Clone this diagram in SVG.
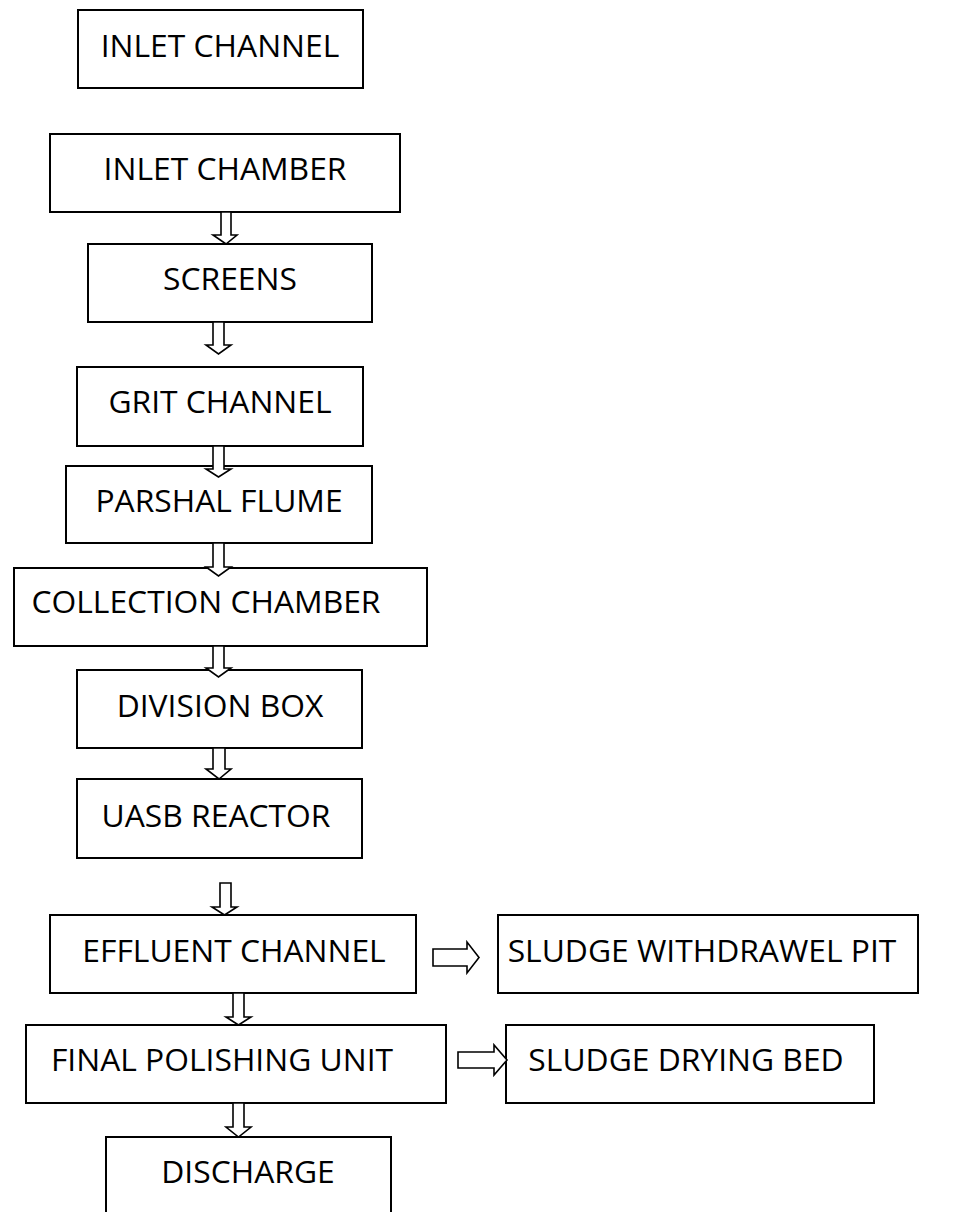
<svg xmlns="http://www.w3.org/2000/svg" width="962" height="1212" viewBox="0 0 962 1212">
<style>
.box{fill:#fff;stroke:#000;stroke-width:2}
.lbl{font-family:"Open Sans","Liberation Sans",sans-serif;font-size:31.8px;fill:#000;text-anchor:middle}
.arr{fill:#fff;stroke:#000;stroke-width:1.6;stroke-linejoin:miter}
</style>
<rect width="962" height="1212" fill="#fff"/>
<g id="n1"><rect class="box" x="78" y="10" width="285" height="78"/><text class="lbl" x="220" y="57">INLET CHANNEL</text></g>
<g id="n2"><rect class="box" x="50" y="134" width="350" height="78"/><text class="lbl" x="225" y="180">INLET CHAMBER</text></g>
<g id="n3"><rect class="box" x="88" y="244" width="284" height="78"/><text class="lbl" x="230" y="290">SCREENS</text></g>
<g id="n4"><rect class="box" x="77" y="367" width="286" height="79"/><text class="lbl" x="220" y="413">GRIT CHANNEL</text></g>
<g id="n5"><rect class="box" x="66" y="466" width="306" height="77"/><text class="lbl" x="219" y="512">PARSHAL FLUME</text></g>
<g id="n6"><rect class="box" x="14" y="568" width="413" height="78"/><text class="lbl" x="206" y="613">COLLECTION CHAMBER</text></g>
<g id="n7"><rect class="box" x="77" y="670" width="285" height="78"/><text class="lbl" x="220" y="717">DIVISION BOX</text></g>
<g id="n8"><rect class="box" x="77" y="779" width="285" height="79"/><text class="lbl" x="216" y="827">UASB REACTOR</text></g>
<g id="n9"><rect class="box" x="50" y="915" width="366" height="78"/><text class="lbl" x="234" y="962">EFFLUENT CHANNEL</text></g>
<g id="n10"><rect class="box" x="498" y="915" width="420" height="78"/><text class="lbl" x="702" y="962">SLUDGE WITHDRAWEL PIT</text></g>
<g id="n11"><rect class="box" x="26" y="1025" width="420" height="78"/><text class="lbl" x="222" y="1071">FINAL POLISHING UNIT</text></g>
<g id="n12"><rect class="box" x="506" y="1025" width="368" height="78"/><text class="lbl" x="686" y="1071">SLUDGE DRYING BED</text></g>
<g id="n13"><rect class="box" x="106" y="1137" width="285" height="76"/><text class="lbl" x="248" y="1183">DISCHARGE</text></g>
<g id="connectors">
<path class="arr" d="M221,212 H231 V235 H237 L226,244 L213,235 H221 Z"/>
<path class="arr" d="M213,322 H224 V345 H231 L218.5,354 L206,345 H213 Z"/>
<path class="arr" d="M213,446 H224 V469 H231 L218.5,477 L206,469 H213 Z"/>
<path class="arr" d="M213,543 H224 V567 H231 L218.5,576 L206,567 H213 Z"/>
<path class="arr" d="M213,646 H224 V668 H231 L218.5,677 L206,668 H213 Z"/>
<path class="arr" d="M213,748 H225 V769 H231 L219,779 L206,769 H213 Z"/>
<path class="arr" d="M220,883 H231 V907 H237 L224.5,915 L212,907 H220 Z"/>
<path class="arr" d="M233,993 H244 V1017 H251 L238.5,1025 L226,1017 H233 Z"/>
<path class="arr" d="M233,1103 H244 V1127 H251 L238.5,1137 L226,1127 H233 Z"/>
<path class="arr" d="M433,949 H467 V942 L479,957.5 L467,973 V966 H433 Z"/>
<path class="arr" d="M458,1052 H494 V1045 L507,1060 L494,1075 V1068 H458 Z"/>
</g>
</svg>
